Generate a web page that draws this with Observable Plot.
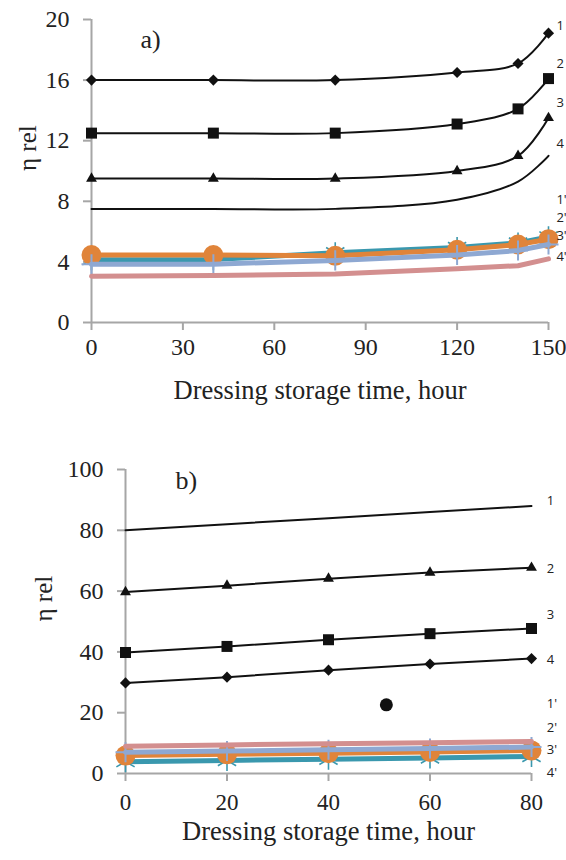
<!DOCTYPE html>
<html>
<head>
<meta charset="utf-8">
<script src="https://cdn.jsdelivr.net/npm/d3@7"></script>
<script src="https://cdn.jsdelivr.net/npm/@observablehq/plot@0.6"></script>
<style>
  html, body { margin: 0; padding: 0; background: #fff; }
  #chart svg { display: block; }
</style>
</head>
<body>
<div id="chart"></div>
<script>
// ---------- data: panel a ----------
const xTop = [0, 40, 80, 120, 140, 150];
const topS1 = [16, 16, 16, 16.5, 17.1, 19.1];
const topS2 = [12.5, 12.5, 12.5, 13.1, 14.1, 16.1];
const topS3 = [9.5, 9.5, 9.5, 10.0, 11.0, 13.5];
const topS4 = [7.5, 7.5, 7.5, 8.1, 9.3, 11.0];
const topP1 = [4.15, 4.15, 4.6, 4.95, 5.25, 5.65];
const topP2 = [4.45, 4.45, 4.4, 4.8, 5.15, 5.5];
const topP3 = [3.85, 3.85, 4.1, 4.45, 4.75, 5.15];
const topP4 = [3.05, 3.1, 3.2, 3.55, 3.75, 4.2];
const topYTicks = [0, 4, 8, 12, 16, 20];
const topXTicks = [0, 30, 60, 90, 120, 150];
const topLabelNames = ["1", "2", "3", "4", "1'", "2'", "3'", "4'"];
const topLabelY = [19.6, 17.1, 14.5, 11.8, 8.1, 6.9, 5.7, 4.35];
const topLabelX = 152.6;

// ---------- data: panel b ----------
const xBot = [0, 20, 40, 60, 80];
const botS1 = [80, 82, 84, 86, 88];
const botS2 = [59.7, 61.8, 64.1, 66.1, 67.7];
const botS3 = [39.8, 41.8, 44.0, 46.0, 47.7];
const botS4 = [29.8, 31.7, 34.0, 36.0, 37.8];
const botP1 = [3.9, 4.3, 4.7, 5.1, 5.6];
const botP2 = [5.9, 6.3, 6.7, 7.1, 7.6];
const botP3 = [7.0, 7.4, 7.8, 8.2, 8.7];
const botP4 = [9.0, 9.4, 9.8, 10.1, 10.5];
const botStray = [{x: 51.4, y: 22.6}];
const botYTicks = [0, 20, 40, 60, 80, 100];
const botXTicks = [0, 20, 40, 60, 80];
const botLabelNames = ["1", "2", "3", "4", "1'", "2'", "3'", "4'"];
const botLabelY = [89.8, 67.4, 52.3, 37.5, 23, 15.1, 7.9, 0.2];
const botLabelX = 83;

const xTitle = "Dressing storage time, hour";
const yTitle = "η rel";

// ---------- helpers ----------
const serif = "'Liberation Serif', 'Times New Roman', serif";
const sans = "'Open Sans', 'Liberation Sans', sans-serif";
const AX = "#a6a6a6";
const TEAL = "#3a98ae", ORANGE = "#e0843a", BLUE = "#8ea8d2", PINK = "#d38f8f";

const zip = (xs, ys) => xs.map((x, i) => ({x, y: ys[i]}));

function panel(o) {
  const {xs, black, blackSymbols, blackCurve, primes, xTicks, yTicks, xDom, yDom,
         labelNames, labelY, labelX, tag, margins, yTitleDx, tagDx, tagDy, extra} = o;
  const marks = [];
  // axes
  marks.push(Plot.ruleX([0], {stroke: AX, strokeWidth: 2}));
  marks.push(Plot.ruleY([0], {stroke: AX, strokeWidth: 2}));
  marks.push(Plot.axisY({ticks: yTicks, tickSize: 8, tickPadding: 14, stroke: AX, strokeWidth: 2,
    fill: "#222", fontSize: 24, fontFamily: serif, label: null, tickFormat: d => String(d)}));
  marks.push(Plot.axisX({ticks: xTicks, tickSize: 8, tickPadding: o.xTickPad, stroke: AX, strokeWidth: 2,
    fill: "#222", fontSize: o.xTickFont, fontFamily: serif, label: null, tickFormat: d => String(d)}));
  // colored primed series (teal, orange, blue, pink)
  const [p1, p2, p3, p4] = primes.map(p => zip(xs, p));
  marks.push(Plot.dot(p1, {x: "x", y: "y", symbol: "asterisk", r: 10, stroke: TEAL, strokeWidth: 1.6}));
  marks.push(Plot.line(p1, {x: "x", y: "y", stroke: TEAL, strokeWidth: 5}));
  marks.push(Plot.line(p2, {x: "x", y: "y", stroke: ORANGE, strokeWidth: 5}));
  marks.push(Plot.dot(p2, {x: "x", y: "y", r: 10, fill: ORANGE}));
  marks.push(Plot.line(p3, {x: "x", y: "y", stroke: BLUE, strokeWidth: 5}));
  marks.push(Plot.dot(p3, {x: "x", y: "y", symbol: "plus", r: 6.5, stroke: BLUE, strokeWidth: 2}));
  marks.push(Plot.line(p4, {x: "x", y: "y", stroke: PINK, strokeWidth: 5}));
  // black series
  black.forEach((s, i) => {
    const d = zip(xs, s);
    marks.push(Plot.line(d, {x: "x", y: "y", stroke: "#111", strokeWidth: 2, curve: blackCurve}));
    const sym = blackSymbols[i];
    if (sym) {
      const r = sym === "square2" ? 7 : sym === "diamond2" ? 5 : 5.2;
      marks.push(Plot.dot(d, {x: "x", y: "y", symbol: sym, r, fill: "#111"}));
    }
  });
  if (extra) marks.push(Plot.dot(extra, {x: "x", y: "y", r: 6.5, fill: "#111"}));
  // series labels
  marks.push(Plot.text(labelNames.map((t, i) => ({t, y: labelY[i]})),
    {x: () => labelX, y: "y", text: "t", textAnchor: "start", fontSize: 13, fontFamily: sans, fill: "#222"}));
  // panel tag
  marks.push(Plot.text([tag], {frameAnchor: "top-left", dx: tagDx, dy: tagDy, fontSize: 26, fontFamily: serif, fill: "#222"}));
  // axis titles
  marks.push(Plot.text([yTitle], {frameAnchor: "left", dx: yTitleDx, rotate: -90, fontSize: 25, fontFamily: serif, fill: "#222"}));
  marks.push(Plot.text([xTitle], {frameAnchor: "bottom", dy: o.xTitleDy, fontSize: 26.5, fontFamily: serif, fill: "#222"}));

  return Plot.plot({
    width: 566, height: 430,
    ...margins,
    x: {domain: xDom},
    y: {domain: yDom},
    style: {background: "#fff", overflow: "visible"},
    marks
  });
}

const root = document.getElementById("chart");
root.append(panel({
  xs: xTop, black: [topS1, topS2, topS3, topS4],
  blackSymbols: ["diamond2", "square2", "triangle2", null], blackCurve: "catmull-rom",
  primes: [topP1, topP2, topP3, topP4],
  xTicks: topXTicks, yTicks: topYTicks, xDom: [0, 150], yDom: [0, 20],
  labelNames: topLabelNames, labelY: topLabelY, labelX: topLabelX,
  tag: "a)", tagDx: 49, tagDy: 10, yTitleDx: -64, xTitleDy: 76, xTickPad: 7, xTickFont: 24,
  margins: {marginLeft: 91, marginRight: 18, marginTop: 19, marginBottom: 108}
}));
root.append(panel({
  xs: xBot, black: [botS1, botS2, botS3, botS4],
  blackSymbols: [null, "triangle2", "square2", "diamond2"], blackCurve: "linear",
  primes: [botP1, botP2, botP3, botP4],
  xTicks: botXTicks, yTicks: botYTicks, xDom: [0, 80], yDom: [0, 100],
  labelNames: botLabelNames, labelY: botLabelY, labelX: botLabelX,
  tag: "b)", tagDx: 50, tagDy: 1, yTitleDx: -82, xTitleDy: 66, xTickPad: 12, xTickFont: 23,
  margins: {marginLeft: 125, marginRight: 35, marginTop: 39, marginBottom: 87},
  extra: botStray
}));
</script>
</body>
</html>
